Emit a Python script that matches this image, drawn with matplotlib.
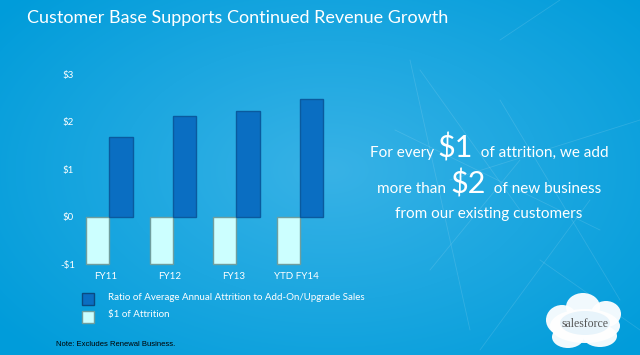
import numpy as np
import matplotlib
matplotlib.use("Agg")
import matplotlib.pyplot as plt
from matplotlib.patches import Ellipse

# data
categories = ["FY11", "FY12", "FY13", "YTD FY14"]
add_on_sales = [1.68, 2.12, 2.23, 2.47]
attrition = [-1, -1, -1, -1]
y_ticks = [-1, 0, 1, 2, 3]
y_labels = ["-$1", "$0", "$1", "$2", "$3"]
legend_labels = ["Ratio of Average Annual Attrition to Add-On/Upgrade Sales",
                 "$1 of Attrition"]

W, H = 640, 355
fig = plt.figure(figsize=(6.4, 3.55), dpi=100)

# background: radial blue gradient
bg = fig.add_axes([0, 0, 1, 1])
yy, xx = np.mgrid[0:H, 0:W]
r = np.sqrt(((xx - 330) / 420.0) ** 2 + ((yy - 170) / 260.0) ** 2)
r = np.clip(r, 0, 1)
c_in = np.array([0x38, 0xb2, 0xe6]) / 255.0
c_out = np.array([0x00, 0x9c, 0xda]) / 255.0
img = c_in[None, None, :] * (1 - r[..., None]) + c_out[None, None, :] * r[..., None]
bg.imshow(img, extent=[0, W, H, 0], aspect="auto")
bg.set_xlim(0, W)
bg.set_ylim(H, 0)
bg.axis("off")

# faint network lines on the right
lines = [((410, 60), (470, 330)), ((420, 70), (520, 210)), ((500, 40), (560, 0)),
         ((395, 130), (600, 230)), ((450, 180), (640, 120)), ((480, 350), (590, 200)),
         ((540, 260), (640, 330)), ((430, 270), (520, 160)), ((500, 100), (620, 300))]
for (x0, y0), (x1, y1) in lines:
    bg.plot([x0, x1], [y0, y1], color="white", alpha=0.12, lw=0.6)

# title
fig.text(27 / W, 1 - 18 / H, "Customer Base Supports Continued Revenue Growth",
         color="white", fontsize=13, family="Lato", va="center", ha="left")

# bar chart
ax = fig.add_axes([40 / W, 1 - 268 / H, 300 / W, 208 / H])
ax.patch.set_alpha(0)
x = np.arange(len(categories))
w = 0.367
ax.bar(x - w / 2, attrition, width=w, color="#ccffff", edgecolor="#6f9e9e",
       linewidth=1.0, zorder=2)
ax.bar(x + w / 2, add_on_sales, width=w, color="#0a6ec2", edgecolor="#0a5a9e",
       linewidth=1.0, zorder=3)
ax.set_xlim(-1.09, 3.63)
ax.set_ylim(-1.08, 3.3)
for s in ax.spines.values():
    s.set_visible(False)
ax.set_yticks(y_ticks)
ax.set_yticklabels(y_labels, color="white", fontsize=7, family="Lato")
ax.tick_params(axis="y", length=0, pad=-20)
for t in ax.get_yticklabels():
    t.set_horizontalalignment("center")
ax.set_xticks(x - 0.05)
ax.set_xticklabels(categories, color="white", fontsize=7, family="Lato")
ax.tick_params(axis="x", length=0, pad=3)

# legend
fig.patches.append(plt.Rectangle((82 / W, 1 - 305 / H), 12 / W, 12 / H,
                                 transform=fig.transFigure, facecolor="#0a6ec2",
                                 edgecolor="#0a4a80", lw=1))
fig.patches.append(plt.Rectangle((82 / W, 1 - 323 / H), 12 / W, 12 / H,
                                 transform=fig.transFigure, facecolor="#ccffff",
                                 edgecolor="#6f9e9e", lw=1))
fig.text(108 / W, 1 - 297 / H, legend_labels[0], color="white", fontsize=7,
         family="Lato", va="center")
fig.text(108 / W, 1 - 315 / H, legend_labels[1], color="white", fontsize=7,
         family="Lato", va="center")
fig.text(56 / W, 1 - 344 / H, "Note: Excludes Renewal Business.", color="black",
         fontsize=5.5, family="Liberation Sans", va="center")

# right side message with mixed sizes
fig.canvas.draw()
renderer = fig.canvas.get_renderer()


def mixed_line(parts, cx, base_y):
    texts = []
    for s, size in parts:
        t = fig.text(0, 1 - base_y / H, s, color="white", fontsize=size,
                     family="Lato", va="baseline", ha="left")
        texts.append(t)
    widths = [t.get_window_extent(renderer).width for t in texts]
    total = sum(widths)
    xpos = cx - total / 2
    for t, wd in zip(texts, widths):
        t.set_x(xpos / W)
        xpos += wd


mixed_line([("For every ", 11), ("$1", 22), ("  of attrition, we add", 11)], 489, 157)
mixed_line([("more than ", 11), ("$2", 22), ("  of new business", 11)], 489, 193)
mixed_line([("from our existing customers", 11)], 489, 218)

# salesforce cloud logo
for cx, cy, ew, eh in [(585, 326, 70, 34), (562, 320, 32, 30), (583, 307, 34, 28),
                       (606, 314, 30, 26), (568, 337, 32, 22), (600, 336, 34, 22)]:
    bg.add_patch(Ellipse((cx, cy), ew, eh, facecolor="white", edgecolor="none",
                         alpha=0.95))
bg.add_patch(Ellipse((585, 323), 50, 24, facecolor="#e8f4fb", edgecolor="none"))
bg.text(585, 324, "salesforce", color="#555555", fontsize=8.5,
        family="Liberation Serif", ha="center", va="center")

fig.savefig("out.png", dpi=100)
